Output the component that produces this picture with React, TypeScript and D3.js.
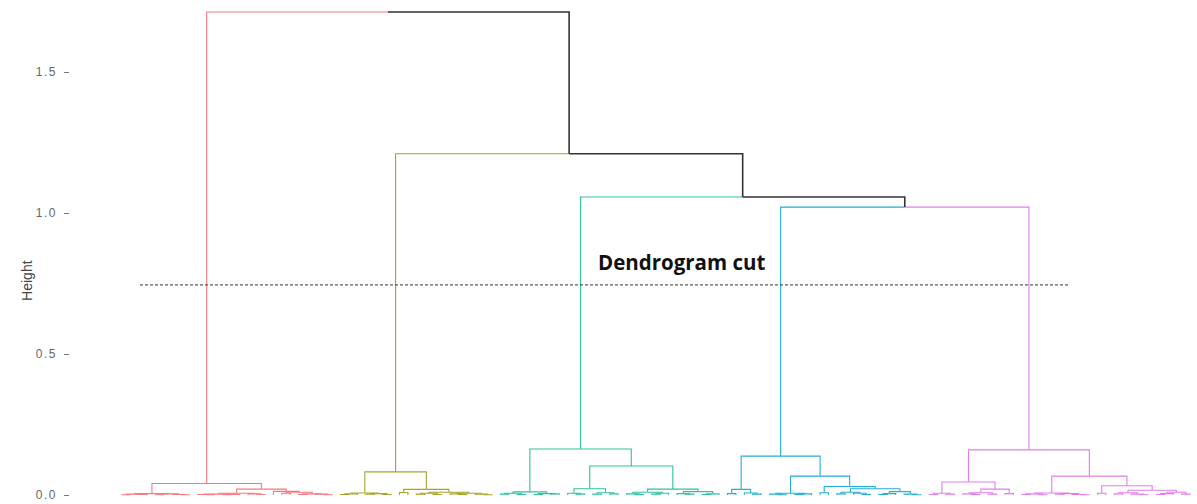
import React, { useEffect, useRef } from 'react';
import * as d3 from 'd3';

// tree nodes: leaf = 0, merge = [height, left, right]
type TreeNode = number | [number, TreeNode, TreeNode];

const clusterColors = ['#F27A80', '#A5A52A', '#2EC29E', '#22AED6', '#E27CEC'];
const upperColor = '#333333';

// merge heights above the cut, root first
const upperHeights = [1.713, 1.21, 1.057, 1.021];

const redCluster: TreeNode = [0.041,
  [0.005, [0.003, [0.001, 0, 0], [0.002, 0, 0]], [0.004, [0.001, 0, 0], [0.002, 0, [0.001, 0, 0]]]],
  [0.021,
    [0.006, [0.003, [0.002, 0, [0.001, 0, 0]], [0.002, [0.001, 0, 0], 0]], [0.004, 0, [0.002, 0, 0]]],
    [0.013, 0, [0.01, [0.006, 0, 0], [0.004, [0.002, 0, 0], [0.003, 0, [0.001, 0, 0]]]]]]];

const oliveCluster: TreeNode = [0.082,
  [0.007, [0.004, [0.002, 0, 0], 0], [0.005, [0.003, 0, 0], [0.002, 0, 0]]],
  [0.02,
    [0.009, 0, 0],
    [0.01, [0.006, [0.003, 0, 0], [0.002, 0, 0]], [0.006, [0.004, 0, [0.002, 0, 0]], [0.003, 0, [0.001, 0, 0]]]]]];

const tealCluster: TreeNode = [0.163,
  [0.011, [0.006, [0.003, 0, 0], [0.002, 0, 0]], [0.005, [0.002, 0, 0], [0.004, 0, 0]]],
  [0.103,
    [0.022, [0.006, 0, [0.003, 0, 0]], [0.008, [0.003, 0, 0], [0.004, 0, 0]]],
    [0.021,
      [0.01, [0.004, 0, [0.002, 0, 0]], [0.006, [0.003, 0, 0], 0]],
      [0.012, [0.005, 0, [0.003, 0, 0]], [0.004, [0.002, 0, 0], 0]]]]];

const blueCluster: TreeNode = [0.138,
  [0.02, [0.005, 0, 0], [0.007, 0, [0.003, 0, 0]]],
  [0.067,
    [0.006, [0.003, 0, [0.001, 0, 0]], [0.004, [0.002, 0, 0], 0]],
    [0.03,
      [0.008, 0, 0],
      [0.022,
        [0.01, [0.004, 0, 0], [0.006, 0, [0.002, 0, 0]]],
        [0.012, [0.005, [0.002, 0, 0], 0], [0.003, 0, [0.001, 0, 0]]]]]]];

const purpleCluster: TreeNode = [0.16,
  [0.046,
    [0.006, [0.002, 0, 0], [0.003, 0, 0]],
    [0.021, [0.008, [0.004, 0, [0.002, 0, 0]], [0.003, 0, 0]], [0.005, 0, 0]]],
  [0.067,
    [0.007, [0.004, [0.002, 0, 0], [0.001, 0, 0]], [0.005, [0.003, 0, 0], [0.002, 0, [0.001, 0, 0]]]],
    [0.033,
      [0.006, 0, 0],
      [0.017,
        [0.008, [0.004, 0, 0], [0.003, 0, [0.001, 0, 0]]],
        [0.01, [0.005, [0.002, 0, 0], 0], [0.003, 0, 0]]]]]];

const clusters = [redCluster, oliveCluster, tealCluster, blueCluster, purpleCluster];

const yTicks = [0, 0.5, 1.0, 1.5];
const yTickLabels = ['0.0', '0.5', '1.0', '1.5'];
const yLabel = 'Height';
const cutHeight = 0.745;
const cutLabel = 'Dendrogram cut';

interface Laid { x: number; h: number; color: string; children: Laid[] }

const W = 1197;
const H = 504;

export default function App() {
  const svgRef = useRef<SVGSVGElement>(null);

  useEffect(() => {
    if (!svgRef.current) return;
    const svg = d3.select(svgRef.current);
    svg.selectAll('*').remove();

    // lay the tree out: leaves get consecutive indices, merges sit at the midpoint of their children
    let leafCount = 0;
    const layout = (node: TreeNode, color: string): Laid => {
      if (typeof node === 'number') return { x: leafCount++, h: 0, color, children: [] };
      const kids = [layout(node[1], color), layout(node[2], color)];
      return { x: (kids[0].x + kids[1].x) / 2, h: node[0], color, children: kids };
    };
    const buildUpper = (level: number): Laid => {
      const left = layout(clusters[level], clusterColors[level]);
      const right = level === upperHeights.length - 1
        ? layout(clusters[level + 1], clusterColors[level + 1])
        : buildUpper(level + 1);
      return { x: (left.x + right.x) / 2, h: upperHeights[level], color: upperColor, children: [left, right] };
    };
    const root = buildUpper(0);

    const xScale = d3.scaleLinear().domain([0, leafCount - 1]).range([122, 1190]);
    const yScale = d3.scaleLinear().domain([0, 1.5]).range([495, 72]);

    const segs: { d: string; color: string; upper: boolean }[] = [];
    const walk = (n: Laid) => {
      n.children.forEach(c => {
        const p = d3.path();
        p.moveTo(xScale(n.x), yScale(n.h));
        p.lineTo(xScale(c.x), yScale(n.h));
        p.lineTo(xScale(c.x), yScale(c.h));
        segs.push({ d: p.toString(), color: c.color, upper: c.color === upperColor });
        walk(c);
      });
    };
    walk(root);

    svg.append('g')
      .selectAll('path')
      .data(segs.filter(s => !s.upper))
      .join('path')
      .attr('d', d => d.d)
      .attr('fill', 'none')
      .attr('stroke', d => d.color)
      .attr('stroke-width', 1.1);

    svg.append('g')
      .selectAll('path')
      .data(segs.filter(s => s.upper))
      .join('path')
      .attr('d', d => d.d)
      .attr('fill', 'none')
      .attr('stroke', upperColor)
      .attr('stroke-width', 1.6);

    // y axis
    const axis = svg.append('g')
      .attr('transform', 'translate(69,0)')
      .call(d3.axisLeft(yScale).tickValues(yTicks).tickFormat((_, i) => yTickLabels[i]).tickSize(5).tickPadding(7));
    axis.select('.domain').remove();
    axis.selectAll('line').attr('stroke', '#777');
    axis.selectAll('text')
      .attr('fill', '#666')
      .attr('font-size', 12)
      .attr('letter-spacing', 1.5)
      .attr('font-family', '"Liberation Sans", Arial, sans-serif');

    svg.append('text')
      .attr('transform', `translate(32,${yScale(0.76)}) rotate(-90)`)
      .attr('text-anchor', 'middle')
      .attr('font-family', '"Liberation Sans", Arial, sans-serif')
      .attr('font-size', 14)
      .attr('fill', '#444')
      .text(yLabel);

    // cut line
    svg.append('line')
      .attr('x1', 140)
      .attr('x2', 1068)
      .attr('y1', yScale(cutHeight))
      .attr('y2', yScale(cutHeight))
      .attr('stroke', '#333')
      .attr('stroke-width', 1)
      .attr('stroke-dasharray', '3,2');

    svg.append('text')
      .attr('x', 598)
      .attr('y', 270)
      .attr('font-family', '"Open Sans", Lato, sans-serif')
      .attr('font-weight', 'bold')
      .attr('font-size', 20.5)
      .attr('fill', '#111')
      .text(cutLabel);
  }, []);

  return (
    <svg
      ref={svgRef}
      width={W}
      height={H}
      style={{ position: 'absolute', left: 0, top: 0, background: '#fff' }}
    />
  );
}
